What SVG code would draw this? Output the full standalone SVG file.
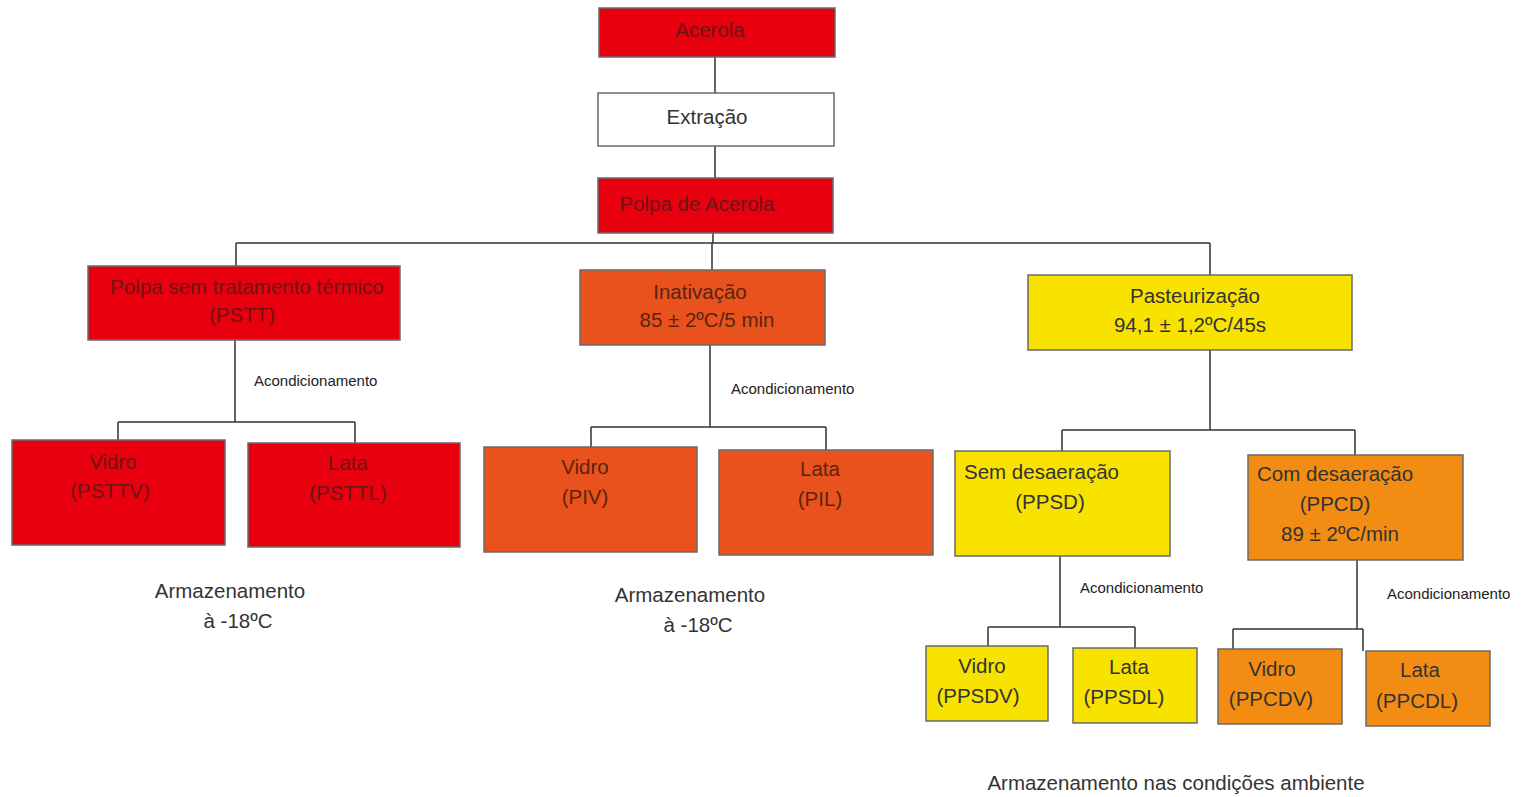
<svg xmlns="http://www.w3.org/2000/svg" width="1526" height="797" viewBox="0 0 1526 797">
<style>
.box{stroke:#6a6a6a;stroke-width:1.5}
.red{fill:#e8000e}
.ored{fill:#e9521c}
.yel{fill:#f8e200}
.org{fill:#f28c12}
.wht{fill:#ffffff}
text{font-family:"Liberation Sans",Arial,sans-serif;font-size:20.5px;text-anchor:middle}
.tr{fill:#6e1414}
.to{fill:#5a2410}
.ty{fill:#333333}
.tk{fill:#333333}
.small{font-size:15px;text-anchor:start;fill:#222}
.conn{stroke:#333;stroke-width:1.5;fill:none}
</style>
<rect width="1526" height="797" fill="#ffffff"/>
<g id="connectors">
<path class="conn" d="M715 57V93M715 146V178M713 233V243M236 243H1210M236 243V266M712 243V270M1210 243V275"/>
<path class="conn" d="M235 340V422M118 422H355M118 422V440M355 422V443"/>
<path class="conn" d="M710 345V427M591 427H826M591 427V447M826 427V450"/>
<path class="conn" d="M1210 350V430M1062 430H1355M1062 430V451M1355 430V455"/>
<path class="conn" d="M1060 556V627M988 627H1135M988 627V646M1135 627V648"/>
<path class="conn" d="M1357 560V629M1233 629H1363M1233 629V649M1363 629V651"/>
</g>
<g id="acerola"><rect class="box red" x="599" y="8" width="236" height="49"/><text class="tr" x="710" y="37">Acerola</text></g>
<g id="extracao"><rect class="box wht" x="598" y="93" width="236" height="53"/><text class="tk" x="707" y="124">Extração</text></g>
<g id="polpa"><rect class="box red" x="598" y="178" width="235" height="55"/><text class="tr" x="697" y="211">Polpa de Acerola</text></g>
<g id="pstt"><rect class="box red" x="88" y="266" width="312" height="74"/><text class="tr" x="247" y="294">Polpa sem tratamento térmico</text><text class="tr" x="242" y="322">(PSTT)</text></g>
<g id="inativacao"><rect class="box ored" x="580" y="270" width="245" height="75"/><text class="to" x="700" y="299">Inativação</text><text class="to" x="707" y="327">85 ± 2ºC/5 min</text></g>
<g id="pasteurizacao"><rect class="box yel" x="1028" y="275" width="324" height="75"/><text class="ty" x="1195" y="303">Pasteurização</text><text class="ty" x="1190" y="332">94,1 ± 1,2ºC/45s</text></g>
<g id="psttv"><rect class="box red" x="12" y="440" width="213" height="105"/><text class="tr" x="113" y="469">Vidro</text><text class="tr" x="110" y="498">(PSTTV)</text></g>
<g id="psttl"><rect class="box red" x="248" y="443" width="212" height="104"/><text class="tr" x="348" y="470">Lata</text><text class="tr" x="348" y="500">(PSTTL)</text></g>
<g id="piv"><rect class="box ored" x="484" y="447" width="213" height="105"/><text class="to" x="585" y="474">Vidro</text><text class="to" x="585" y="504">(PIV)</text></g>
<g id="pil"><rect class="box ored" x="719" y="450" width="214" height="105"/><text class="to" x="820" y="476">Lata</text><text class="to" x="820" y="506">(PIL)</text></g>
<g id="ppsd"><rect class="box yel" x="955" y="451" width="215" height="105"/><text class="ty" x="964" y="479" style="text-anchor:start">Sem desaeração</text><text class="ty" x="1050" y="509">(PPSD)</text></g>
<g id="ppcd"><rect class="box org" x="1248" y="455" width="215" height="105"/><text class="ty" x="1257" y="481" style="text-anchor:start">Com desaeração</text><text class="ty" x="1335" y="511">(PPCD)</text><text class="ty" x="1340" y="541">89 ± 2ºC/min</text></g>
<g id="ppsdv"><rect class="box yel" x="926" y="646" width="122" height="75"/><text class="ty" x="982" y="673">Vidro</text><text class="ty" x="978" y="703">(PPSDV)</text></g>
<g id="ppsdl"><rect class="box yel" x="1073" y="648" width="124" height="75"/><text class="ty" x="1129" y="674">Lata</text><text class="ty" x="1124" y="704">(PPSDL)</text></g>
<g id="ppcdv"><rect class="box org" x="1218" y="649" width="124" height="75"/><text class="ty" x="1272" y="676">Vidro</text><text class="ty" x="1271" y="706">(PPCDV)</text></g>
<g id="ppcdl"><rect class="box org" x="1366" y="651" width="124" height="75"/><text class="ty" x="1420" y="677">Lata</text><text class="ty" x="1417" y="708">(PPCDL)</text></g>
<g id="labels">
<text class="small" x="254" y="386">Acondicionamento</text>
<text class="small" x="731" y="394">Acondicionamento</text>
<text class="small" x="1080" y="593">Acondicionamento</text>
<text class="small" x="1387" y="599">Acondicionamento</text>
<text class="tk" x="230" y="598">Armazenamento</text>
<text class="tk" x="238" y="628">à -18ºC</text>
<text class="tk" x="690" y="602">Armazenamento</text>
<text class="tk" x="698" y="632">à -18ºC</text>
<text class="tk" x="1176" y="790">Armazenamento nas condições ambiente</text>
</g>
</svg>
